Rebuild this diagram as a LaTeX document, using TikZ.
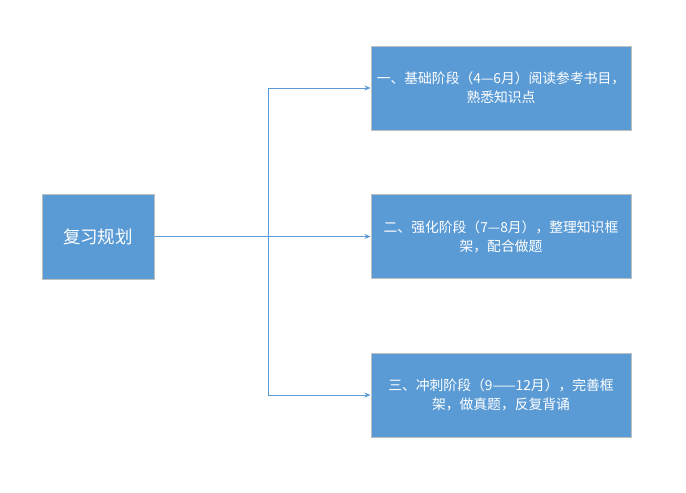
\documentclass[tikz,border=0pt]{standalone}
\usepackage{fontspec}
\setmainfont{Noto Sans CJK SC}
\usetikzlibrary{arrows.meta}
\definecolor{boxblue}{HTML}{5B9BD5}
\definecolor{boxedge}{HTML}{BFBFBF}
\definecolor{linkblue}{HTML}{5B9BD5}
\tikzset{
  stagebox/.style={draw=boxedge, line width=1pt, fill=boxblue, text=white,
    minimum width=260pt, minimum height=84pt, align=center, inner sep=2pt,
    font=\fontsize{13.8pt}{19pt}\selectfont},
  rootbox/.style={draw=boxedge, line width=1pt, fill=boxblue, text=white,
    minimum width=112pt, minimum height=85pt, align=center,
    font=\fontsize{17.5pt}{20pt}\selectfont},
  link/.style={draw=linkblue, line width=0.8pt, -{Stealth[length=6pt,width=5pt]}}
}
\begin{document}
\begin{tikzpicture}[x=1pt,y=-1pt]
\useasboundingbox (0,0) rectangle (686,493);
\node[rootbox] (root) at (98,236.5) {复习规划};
\node[stagebox] (s1) at (501,88) {一、基础阶段（4—6月）阅读参考书目，\\熟悉知识点};
\node[stagebox] (s2) at (501,236.5) {二、强化阶段（7—8月），整理知识框\\架，配合做题};
\node[stagebox] (s3) at (501,395) {三、冲刺阶段（9——12月），完善框\\架，做真题，反复背诵};
\coordinate (jx) at (268,0);
\draw[link] (root.east) -- (jx |- root.east) |- (s1.west);
\draw[link] (root.east) -- (s2.west);
\draw[link] (root.east) -- (jx |- root.east) |- (s3.west);
\end{tikzpicture}
\end{document}
